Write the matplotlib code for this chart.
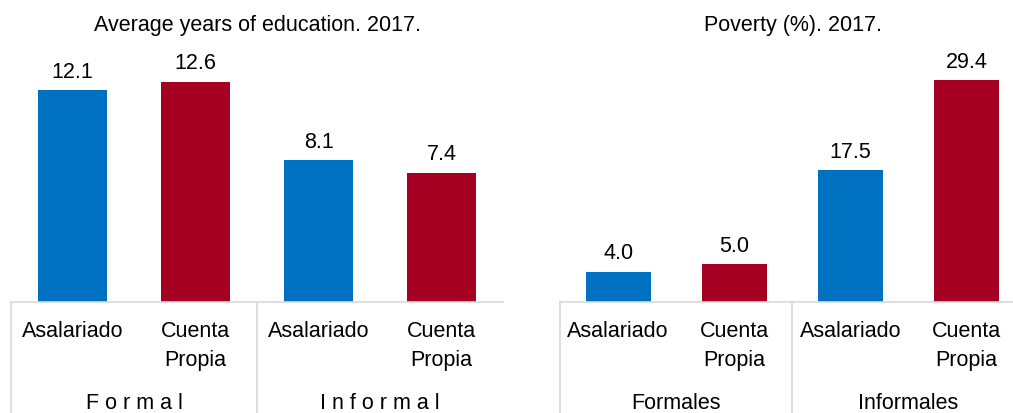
import matplotlib
matplotlib.use("Agg")
import matplotlib.pyplot as plt
from matplotlib.transforms import blended_transform_factory

plt.rcParams['font.family'] = ['Liberation Sans', 'DejaVu Sans']

# Data
categories = ["Asalariado", "Cuenta\nPropia", "Asalariado", "Cuenta\nPropia"]
edu_values = [12.1, 12.6, 8.1, 7.4]
edu_groups = ["F o r m a l", "I n f o r m a l"]
pov_values = [4.0, 5.0, 17.5, 29.4]
pov_groups = ["Formales", "Informales"]
titles = ["Average years of education. 2017.", "Poverty (%). 2017."]

colors = ["#0070C0", "#A50021", "#0070C0", "#A50021"]
W, H = 1013, 414
fig = plt.figure(figsize=(W / 100, H / 100), dpi=100)

base_y = 303
def make_ax(x0, x1, xmax):
    ax = fig.add_axes([x0 / W, (H - base_y) / H, (x1 - x0) / W, base_y / H])
    ax.set_xlim(-0.5, xmax)
    for s in ax.spines.values():
        s.set_visible(False)
    ax.set_xticks([])
    ax.set_yticks([])
    ax.patch.set_alpha(0)
    return ax

def draw(ax, values, groups, title, ymax, title_x):
    x = list(range(len(values)))
    ax.set_ylim(0, ymax)
    bars = ax.bar(x, values, width=0.56, color=colors)
    for b, v in zip(bars, values):
        ax.annotate(f"{v:.1f}", (b.get_x() + b.get_width() / 2, v),
                    xytext=(0, 6), textcoords="offset points",
                    ha="center", va="bottom", fontsize=15.5)
    tr = blended_transform_factory(ax.transData, ax.transAxes)
    def ay(py):
        return (base_y - py) / base_y
    line_kw = dict(color="#D9D9D9", lw=1.2, clip_on=False, transform=tr)
    ax.plot([-0.5, 3.5], [0, 0], **line_kw)
    for xs in [-0.5, 1.5]:
        ax.plot([xs, xs], [0, ay(H + 5)], **line_kw)
    for xi, lab in zip(x, categories):
        ax.text(xi, ay(321), lab, transform=tr, ha="center", va="top",
                fontsize=15.5, linespacing=1.5)
    for gi, g in enumerate(groups):
        ax.text(0.5 + 2 * gi, ay(404), g, transform=tr, ha="center",
                va="center", fontsize=15.5)
    fig.text(title_x / W, 1 - 26 / H, title, ha="center", va="center", fontsize=15.5)

ax1 = make_ax(11, 503, 3.5)
draw(ax1, edu_values, edu_groups, titles[0], base_y / 17.5, 257)

ax2 = make_ax(560, 1013, 3.5 - 11.5 / 116)
draw(ax2, pov_values, pov_groups, titles[1], base_y / 7.55, 793)

fig.savefig("out.png", dpi=100)
